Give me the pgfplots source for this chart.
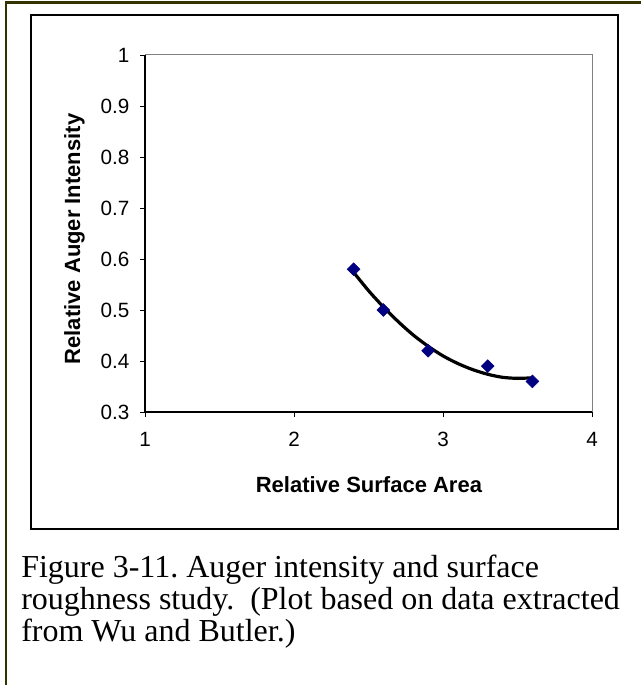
\documentclass[border=0pt]{standalone}
\usepackage{pgfplots}
\pgfplotsset{compat=1.18}
\usepackage{fontspec}
\setmainfont{Liberation Sans}
\newfontfamily\timesfont{Liberation Serif}
\definecolor{frameolive}{HTML}{333300}
\definecolor{navymark}{HTML}{000080}
\newcommand{\tl}[1]{{\fontsize{15.5}{18}\selectfont #1}}
\frenchspacing
\begin{document}
\begin{tikzpicture}[x=0.75pt,y=0.75pt]
\path[use as bounding box] (0,0) rectangle (641,685);
\fill[white] (0,0) rectangle (641,685);
% outer frame (left and top edges visible)
\draw[frameolive, line width=1.6pt] (6,-1) -- (6,682.5) -- (642,682.5);
% inner chart box
\draw[black, line width=1.6pt] (31,670) rectangle (618,156);
\coordinate (AX) at (145,273);
\begin{axis}[
  at={(AX)}, anchor=south west,
  scale only axis, width=335.25pt, height=267.75pt,
  xmin=1, xmax=4, ymin=0.3, ymax=1,
  xtick={1,2,3,4},
  xticklabels={\tl{1},\tl{2},\tl{3},\tl{4}},
  ytick={0.3,0.4,0.5,0.6,0.7,0.8,0.9,1},
  yticklabels={\tl{0.3},\tl{0.4},\tl{0.5},\tl{0.6},\tl{0.7},\tl{0.8},\tl{0.9},\tl{1}},
  axis x line*=bottom, axis y line*=left,
  axis line style={-, black, line width=0.9pt},
  tick align=outside, major tick length=3.75pt,
  tick style={black, line width=0.6pt},
  /pgf/number format/assume math mode=true,
  xticklabel style={yshift=-8pt},
  yticklabel style={xshift=-4.5pt},
  xlabel={Relative Surface Area},
  ylabel={Relative Auger Intensity},
  label style={font=\bfseries\fontsize{16.5}{19}\selectfont},
  xlabel style={at={(axis description cs:0.501,-0.2241)}, anchor=base},
  ylabel style={at={(axis description cs:-0.1454,0.4846)}, anchor=base},
  clip=false,
]
\draw[gray, line width=0.75pt] (rel axis cs:0,1) -- (rel axis cs:1,1) -- (rel axis cs:1,0);
% polynomial (order 2) trend line
\addplot[black, line width=2.4pt, smooth, no marks] coordinates {
 (2.4,0.574) (2.5,0.538) (2.6,0.506) (2.7,0.477) (2.8,0.451) (2.9,0.429)
 (3.0,0.410) (3.1,0.395) (3.2,0.383) (3.3,0.374) (3.4,0.368) (3.5,0.366) (3.6,0.367)
};
% data points
\addplot[only marks, mark=square*, mark size=3.4pt, navymark, mark options={rotate=45, fill=navymark, draw=navymark}] coordinates {
 (2.4,0.58) (2.6,0.50) (2.9,0.42) (3.3,0.39) (3.6,0.36)
};
\end{axis}
\node[anchor=base west, inner sep=0pt, font=\timesfont\fontsize{24}{24}\selectfont] at (21,107) {Figure 3-11. Auger intensity and surface};
\node[anchor=base west, inner sep=0pt, font=\timesfont\fontsize{24}{24}\selectfont] at (21,75) {roughness study.\ \ (Plot based on data extracted};
\node[anchor=base west, inner sep=0pt, font=\timesfont\fontsize{24}{24}\selectfont] at (21,43) {from Wu and Butler.)};
\end{tikzpicture}
\end{document}
